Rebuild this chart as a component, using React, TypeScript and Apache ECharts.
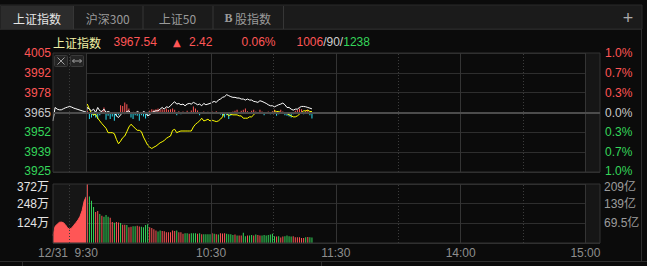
import React, { useEffect, useRef } from "react";
import * as echarts from "echarts";

// ---------- data ----------
const prevClose = 3965.12;
const lastPrice = "3967.54";
const changeText = "2.42";
const changePct = "0.06%";
const advancers = "1006";
const unchanged = "90";
const decliners = "1238";
const indexName = "上证指数";
const tabs = ["上证指数", "沪深300", "上证50", "B 股指数"];

// call-auction (9:15-9:25) indicated index and volume (万)
const preMarketPrice = [3959.51, 3968.48, 3967.36, 3966.91, 3966.91, 3967.59, 3968.26, 3968.71, 3969.16, 3968.71, 3968.03, 3967.59, 3967.14, 3966.69, 3966.24, 3965.79, 3965.34];
const preMarketVolume = [47, 105, 118, 130, 132, 128, 115, 95, 87, 95, 112, 128, 145, 168, 205, 265, 293];

// minute data from 9:30
const indexPrice = [
  3968.48, 3967.36, 3966.24, 3967.36, 3965.12, 3968.48, 3966.24, 3965.79, 3967.36, 3965.12,
  3965.79, 3965.12, 3964.45, 3965.12, 3962.88, 3961.76, 3963.55, 3965.12, 3964.45, 3965.79,
  3966.24, 3964.45, 3965.34, 3964.45, 3965.79, 3965.12, 3964.45, 3965.79, 3965.12, 3962.88,
  3963.55, 3965.12, 3965.79, 3966.24, 3966.24, 3967.36, 3968.48, 3967.36, 3968.93, 3968.48,
  3969.60, 3971.17, 3972.29, 3970.73, 3971.17, 3970.28, 3970.73, 3969.60, 3970.73, 3971.17,
  3970.73, 3971.85, 3971.17, 3970.28, 3970.73, 3969.60, 3971.17, 3970.28, 3970.73, 3971.17,
  3971.85, 3972.52, 3971.85, 3973.42, 3974.09, 3975.21, 3975.66, 3977.00, 3976.33, 3975.66,
  3975.21, 3975.21, 3974.76, 3974.76, 3974.09, 3974.09, 3973.42, 3974.09, 3973.42, 3973.42,
  3972.52, 3972.29, 3971.85, 3972.97, 3972.52, 3971.85, 3971.17, 3970.28, 3969.60, 3969.60,
  3968.93, 3969.60, 3970.28, 3970.73, 3971.40, 3970.28, 3968.48, 3968.48, 3967.36, 3966.69,
  3967.36, 3967.36, 3968.48, 3969.16, 3969.16, 3968.93, 3968.48, 3968.03, 3967.54,
];
const unweightedIndex = [
  3970.73, 3967.36, 3964.45, 3963.55, 3964.00, 3961.31, 3959.51, 3957.72, 3956.15, 3954.58,
  3951.67, 3951.67, 3951.67, 3951.00, 3947.18, 3944.27, 3946.06, 3948.30, 3949.43, 3952.34,
  3955.48, 3957.27, 3955.93, 3954.58, 3953.24, 3953.24, 3952.34, 3948.75, 3946.06, 3943.37,
  3942.03, 3941.13, 3942.03, 3942.70, 3943.82, 3944.94, 3945.61, 3946.51, 3947.86, 3948.75,
  3949.43, 3953.24, 3953.91, 3951.67, 3952.34, 3952.79, 3952.79, 3952.79, 3952.79, 3952.79,
  3952.79, 3955.48, 3957.27, 3958.39, 3959.51, 3961.31, 3959.51, 3959.96, 3960.64, 3959.51,
  3959.96, 3959.51, 3959.07, 3959.51, 3960.64, 3962.21, 3965.12, 3964.45, 3962.88, 3964.00,
  3963.55, 3963.55, 3963.55, 3962.88, 3962.88, 3961.31, 3961.31, 3961.31, 3962.21, 3962.21,
  3963.55, 3965.12, 3965.12, 3965.12, 3965.12, 3965.12, 3965.12, 3965.12, 3965.12, 3965.12,
  3966.24, 3965.79, 3965.79, 3965.12, 3965.12, 3964.45, 3964.45, 3963.55, 3962.88, 3962.21,
  3962.21, 3962.88, 3964.00, 3965.12, 3966.24, 3966.24, 3966.69, 3965.79, 3965.79,
];
const buyingPower = [
  5, -20, -15, -10, -15, -20, -8, 5, 15, -22,
  -10, -20, -12, -25, -12, -8, 22, 20, 30, 25,
  12, -15, -20, -8, -10, -25, -8, -12, -18, -10,
  5, 10, 8, 10, 12, 8, 10, 8, 12, 8,
  10, 12, 8, -8, 4, -5, 3, -4, 5, -3,
  6, 18, 12, 6, -8, -3, 3, -3, 2, -4,
  3, -2, 4, -3, -6, -10, -15, -8, -20, -10,
  3, 5, 8, -3, 5, 8, 12, 4, -3, 5,
  8, 3, -2, 8, 3, -8, -4, 3, -5, 4,
  8, -10, -5, 8, 3, -8, -10, -12, -15, -5,
  5, 8, 12, 10, -5, 5, 8, -8, -18,
];
const volume = [
  372, 293, 266, 227, 196, 202, 183, 172, 166, 177,
  166, 159, 132, 128, 132, 130, 126, 115, 115, 113,
  100, 102, 106, 106, 108, 104, 102, 100, 113, 119,
  100, 94, 87, 79, 72, 79, 75, 74, 68, 68,
  68, 79, 75, 79, 68, 68, 58, 62, 62, 58,
  62, 62, 62, 58, 62, 55, 55, 55, 55, 55,
  62, 58, 55, 53, 62, 60, 62, 58, 55, 55,
  51, 54, 47, 47, 47, 64, 43, 47, 47, 51,
  47, 54, 51, 47, 47, 51, 47, 51, 54, 58,
  43, 41, 43, 34, 41, 43, 47, 43, 41, 43,
  36, 36, 36, 32, 32, 36, 38, 36, 34,
];
const volumeUp = (
  "rgggrrgrgggrrgrrgrrgrrggrrgg" +
  "ggrrrrggrrrrrrrgrrrggrgggrgrggggrgrgrrrgggg" +
  "rgrrggrggrgrrgggggggrgrrggggrrrrrrgrgg"
).split("").map((c) => c === "r");

const priceTicks = ["3925", "3939", "3952", "3965", "3978", "3992", "4005"];
const pctTicks = ["1.0%", "0.7%", "0.3%", "0.0%", "0.3%", "0.7%", "1.0%"];
const volLeftTicks = ["", "124万", "248万", "372万"];
const volRightTicks = ["", "69.5亿", "139亿", "209亿"];
const timeTickValues = [-16, 0, 60, 120, 180, 240];
const timeTickLabels = ["12/31", "9:30", "10:30", "11:30", "14:00", "15:00"];

// ---------- style ----------
const BG = "#0b0b0b";
const RED = "#ff5656";
const GREEN = "#35d65a";
const CYAN = "#2fdcee";
const GRIDC = "#2e2e2e";
const FONT = '"Liberation Sans", Arial, "Noto Sans CJK SC", sans-serif';
const CJK = '"Noto Sans CJK SC", "Liberation Sans", sans-serif';

const X_MIN = -16;
const X_MAX = 247;
const sessionLines = [
  { x: -8, solid: false }, { x: 0, solid: true }, { x: 30, solid: false },
  { x: 60, solid: true }, { x: 90, solid: false }, { x: 120, solid: true },
  { x: 150, solid: false }, { x: 180, solid: true }, { x: 210, solid: false },
  { x: 240, solid: true },
];

const toSteps = (p: number) => ((p - prevClose) / prevClose) * 300;

function buildOption() {
  const vLines = sessionLines.map((m) => ({
    xAxis: m.x,
    lineStyle: { color: m.solid ? "#343434" : "#3c3c3c", width: 1, type: m.solid ? "solid" : [1, 2] },
  }));
  const shade = {
    silent: true,
    itemStyle: { color: "#161616" },
    data: [
      [{ xAxis: X_MIN }, { xAxis: 0 }],
      [{ xAxis: 240 }, { xAxis: X_MAX }],
    ],
  };
  const whiteData = [
    ...preMarketPrice.map((p, j) => [X_MIN + j, toSteps(p)]),
    ...indexPrice.map((p, k) => [k + 0.5, toSteps(p)]),
  ];
  const base = { fontSize: 12, fontFamily: FONT };
  const priceRich = {
    up: { ...base, color: RED },
    dn: { ...base, color: GREEN },
    dnb: { ...base, color: GREEN, padding: [0, 0, 3, 0] },
    eq: { ...base, color: "#c8c8c8" },
  };
  const cls = (v: number) => (v > 0.5 ? "up" : v < -2.5 ? "dnb" : v < -0.5 ? "dn" : "eq");

  const tabW = [[1, 73], [73, 142.5], [142.5, 212.5], [212.5, 283]];
  const graphics: any[] = [
    { type: "rect", z: 0, silent: true, shape: { x: 0, y: 5, width: 642, height: 24 }, style: { fill: "#1b1b1b", stroke: "#2a2a2a", lineWidth: 1 } },
    { type: "rect", z: 1, silent: true, shape: { x: 1, y: 6, width: 72, height: 23 }, style: { fill: "#2c2c2c" } },
    ...tabW.map(([a, b]) => ({ type: "line", z: 1, silent: true, shape: { x1: b + 0.5, y1: 6, x2: b + 0.5, y2: 29 }, style: { stroke: "#363636", lineWidth: 1 } })),
    ...tabs.map((t, i) => {
      const [a, b] = tabW[i];
      const isB = t.startsWith("B ");
      return {
        type: "text", z: 2, silent: true,
        x: (a + b) / 2, y: 18,
        style: {
          text: isB ? "{b|B} 股指数" : t,
          fill: i === 0 ? "#e6e6e6" : "#9a9a9a",
          font: `12px ${CJK}`,
          align: "center", verticalAlign: "middle",
          rich: { b: { fontWeight: "bold", fontFamily: "Liberation Serif, serif", fontSize: 12, fill: "#9a9a9a" } },
        },
      };
    }),
    { type: "text", z: 2, silent: true, x: 628, y: 17.5, style: { text: "+", fill: "#aaaaaa", font: `18px ${FONT}`, align: "center", verticalAlign: "middle" } },
    { type: "line", z: 1, silent: true, shape: { x1: 0, y1: 29.5, x2: 642, y2: 29.5 }, style: { stroke: "#262626" } },
    // header
    { type: "text", z: 2, silent: true, x: 53, y: 42, style: { text: indexName, fill: "#f2f2a6", font: `12px ${CJK}`, verticalAlign: "middle" } },
    { type: "text", z: 2, silent: true, x: 113.5, y: 42, style: { text: lastPrice, fill: RED, font: `12px ${FONT}`, verticalAlign: "middle" } },
    { type: "text", z: 2, silent: true, x: 173, y: 42, style: { text: "▲", fill: RED, font: `10px "DejaVu Sans", sans-serif`, verticalAlign: "middle" } },
    { type: "text", z: 2, silent: true, x: 189, y: 42, style: { text: changeText, fill: RED, font: `12px ${FONT}`, verticalAlign: "middle" } },
    { type: "text", z: 2, silent: true, x: 241.5, y: 42, style: { text: changePct, fill: RED, font: `12px ${FONT}`, verticalAlign: "middle" } },
    {
      type: "text", z: 2, silent: true, x: 296.5, y: 42,
      style: {
        text: `{r|${advancers}}{w|/${unchanged}/}{g|${decliners}}`, verticalAlign: "middle", font: `12px ${FONT}`,
        rich: {
          r: { fill: RED, fontSize: 12, fontFamily: FONT },
          w: { fill: "#cfcfcf", fontSize: 12, fontFamily: FONT },
          g: { fill: GREEN, fontSize: 12, fontFamily: FONT },
        },
      },
    },
    // frame lines
    { type: "line", z: 1, silent: true, shape: { x1: 641.5, y1: 29, x2: 641.5, y2: 261 }, style: { stroke: "#2e2e2e" } },
    { type: "line", z: 1, silent: true, shape: { x1: 0, y1: 261.5, x2: 647, y2: 261.5 }, style: { stroke: "#2e2e2e" } },
    { type: "line", z: 1, silent: true, shape: { x1: 22.5, y1: 261, x2: 22.5, y2: 266 }, style: { stroke: "#2e2e2e" } },
    { type: "line", z: 1, silent: true, shape: { x1: 321.5, y1: 261, x2: 321.5, y2: 266 }, style: { stroke: "#2e2e2e" } },
    // small buttons
    { type: "rect", z: 20, silent: true, shape: { x: 54.5, y: 55.5, width: 13, height: 11, r: 1 }, style: { fill: "#242424", stroke: "#3a3a3a" } },
    { type: "line", z: 21, silent: true, shape: { x1: 57.5, y1: 57.5, x2: 64.5, y2: 64.5 }, style: { stroke: "#a0a0a0" } },
    { type: "line", z: 21, silent: true, shape: { x1: 64.5, y1: 57.5, x2: 57.5, y2: 64.5 }, style: { stroke: "#a0a0a0" } },
    { type: "rect", z: 20, silent: true, shape: { x: 70.5, y: 55.5, width: 13, height: 11, r: 1 }, style: { fill: "#242424", stroke: "#3a3a3a" } },
    { type: "line", z: 21, silent: true, shape: { x1: 72.5, y1: 61, x2: 81.5, y2: 61 }, style: { stroke: "#a0a0a0" } },
    { type: "polyline", z: 21, silent: true, shape: { points: [[74.5, 59], [72.5, 61], [74.5, 63]] }, style: { stroke: "#a0a0a0", fill: "none" } },
    { type: "polyline", z: 21, silent: true, shape: { points: [[79.5, 59], [81.5, 61], [79.5, 63]] }, style: { stroke: "#a0a0a0", fill: "none" } },
  ];

  const volLabel = (labels: string[], color: string) => ({
    margin: 4, fontSize: 12, fontFamily: FONT, color,
    formatter: (v: number) => {
      const i = Math.round(v / 124);
      const s = labels[i] || "";
      if (!s) return "";
      return i === 3 ? `{t|${s}}` : `{n|${s}}`;
    },
    rich: {
      t: { ...base, color, padding: [5, 0, 0, 0] },
      n: { ...base, color },
    },
  });

  return {
    animation: false,
    backgroundColor: BG,
    textStyle: { fontFamily: FONT },
    graphic: { elements: graphics },
    grid: [
      { left: 53, top: 53, width: 547, height: 119, show: true, borderColor: "#333333", borderWidth: 1, backgroundColor: "transparent", z: 5 },
      { left: 53, top: 184, width: 547, height: 59, show: true, borderColor: "#333333", borderWidth: 1, backgroundColor: "transparent", z: 5 },
    ],
    xAxis: [
      {
        type: "value", gridIndex: 0, min: X_MIN, max: X_MAX, interval: 4,
        axisLine: { show: false }, axisTick: { show: false }, axisLabel: { show: false }, splitLine: { show: false },
      },
      {
        type: "value", gridIndex: 1, min: X_MIN, max: X_MAX, interval: 4,
        axisLine: { show: false }, axisTick: { show: false }, splitLine: { show: false },
        axisLabel: {
          show: true, color: "#8e8e8e", fontSize: 12, fontFamily: FONT, margin: 4, hideOverlap: false,
          showMinLabel: true, showMaxLabel: true,
          formatter: (v: number) => {
            const i = timeTickValues.indexOf(Math.round(v));
            return i >= 0 ? timeTickLabels[i] : "";
          },
        },
      },
    ],
    yAxis: [
      {
        type: "value", gridIndex: 0, position: "left", min: -3, max: 3, interval: 1,
        axisLine: { show: false }, axisTick: { show: false },
        splitLine: { show: true, lineStyle: { color: GRIDC, width: 1 } },
        axisLabel: {
          margin: 2, fontSize: 12, fontFamily: FONT,
          formatter: (v: number) => `{${cls(v)}|${priceTicks[Math.round(v) + 3]}}`,
          rich: priceRich,
        },
      },
      {
        type: "value", gridIndex: 0, position: "right", min: -3, max: 3, interval: 1,
        axisLine: { show: false }, axisTick: { show: false }, splitLine: { show: false },
        axisLabel: {
          margin: 5, fontSize: 12, fontFamily: FONT,
          formatter: (v: number) => `{${cls(v)}|${pctTicks[Math.round(v) + 3]}}`,
          rich: priceRich,
        },
      },
      { type: "value", gridIndex: 0, min: -180, max: 180, show: false },
      {
        type: "value", gridIndex: 1, position: "left", min: 0, max: 372, interval: 124,
        axisLine: { show: false }, axisTick: { show: false },
        splitLine: { show: true, lineStyle: { color: GRIDC, width: 1 } },
        axisLabel: volLabel(volLeftTicks, "#e4e4e4"),
      },
      {
        type: "value", gridIndex: 1, position: "right", min: 0, max: 372, interval: 124,
        axisLine: { show: false }, axisTick: { show: false }, splitLine: { show: false },
        axisLabel: volLabel(volRightTicks, "#9c9c9c"),
      },
    ],
    series: [
      {
        type: "line", xAxisIndex: 0, yAxisIndex: 0, data: [], z: 1, silent: true,
        markArea: shade,
        markLine: {
          silent: true, symbol: ["none", "none"], label: { show: false },
          data: [...vLines, { yAxis: 0, lineStyle: { color: "#4c4c4c", width: 2, type: "solid" } }],
        },
      },
      {
        type: "bar", xAxisIndex: 0, yAxisIndex: 2, barWidth: 1, z: 2, silent: true,
        data: buyingPower.map((v, k) => ({ value: [k + 0.5, v], itemStyle: { color: v >= 0 ? RED : CYAN } })),
      },
      {
        type: "line", xAxisIndex: 0, yAxisIndex: 0, z: 3, silent: true, symbol: "none",
        lineStyle: { color: "#ffff00", width: 1 },
        data: unweightedIndex.map((p, k) => [k + 0.5, toSteps(p)]),
      },
      {
        type: "line", xAxisIndex: 0, yAxisIndex: 0, z: 4, silent: true, symbol: "none",
        lineStyle: { color: "#ffffff", width: 1 },
        data: whiteData,
      },
      {
        type: "line", xAxisIndex: 1, yAxisIndex: 3, data: [], z: 1, silent: true,
        markArea: shade,
        markLine: { silent: true, symbol: ["none", "none"], label: { show: false }, data: vLines },
      },
      {
        type: "line", xAxisIndex: 1, yAxisIndex: 3, z: 2, silent: true, symbol: "none",
        lineStyle: { color: RED, width: 1 },
        areaStyle: { color: RED, opacity: 1 },
        data: preMarketVolume.map((v, j) => [X_MIN + j, v]),
      },
      {
        type: "bar", xAxisIndex: 1, yAxisIndex: 3, barWidth: 1, z: 3, silent: true,
        data: volume.map((v, k) => ({ value: [k + 0.5, v], itemStyle: { color: volumeUp[k] ? RED : GREEN } })),
      },
    ],
  };
}

export default function App() {
  const ref = useRef<HTMLDivElement>(null);
  useEffect(() => {
    document.body.style.margin = "0";
    document.body.style.background = BG;
    const chart = echarts.init(ref.current!, undefined, { renderer: "svg" });
    chart.setOption(buildOption() as any);
    return () => chart.dispose();
  }, []);
  return <div ref={ref} style={{ width: 647, height: 266, background: BG }} />;
}
